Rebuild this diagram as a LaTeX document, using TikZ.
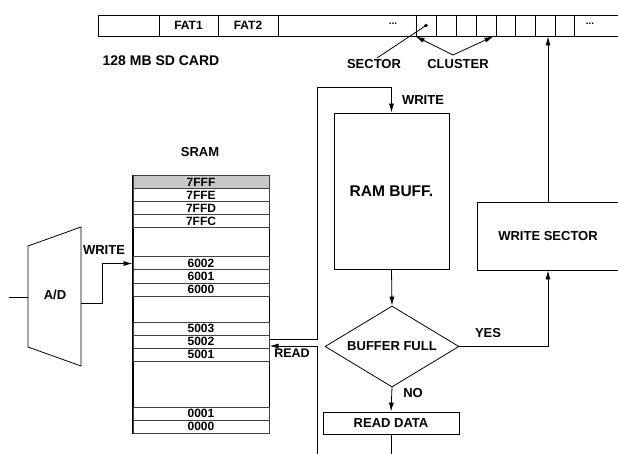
\documentclass[tikz,border=0pt]{standalone}
\usepackage{fontspec}
\setmainfont{Liberation Sans}
\usetikzlibrary{shapes.geometric,arrows.meta}
\newcommand\myfs[1]{\fontsize{#1}{#1}\selectfont\bfseries}
\begin{document}
\begin{tikzpicture}[x=1pt,y=-1pt,line width=0.8pt,
  arr/.style={-{Latex[length=9pt,width=5pt]}},
  cell/.style={draw,minimum height=21pt,inner sep=0pt,font=\myfs{12}},
  row/.style={draw=black!75,line width=1pt,minimum width=136pt,minimum height=13pt,inner sep=0pt,font=\myfs{12}},
  lbl/.style={inner sep=1pt,font=\myfs{13}},
  box/.style={draw,inner sep=0pt,font=\myfs{13}}]
\clip (0,0) rectangle (618,454);
\useasboundingbox (0,0) rectangle (618,454);
% SD card strip
\node[cell,minimum width=61pt] (c1) at (128.5,25.5) {};
\node[cell,minimum width=59pt] (c2) at (188.5,25.5) {FAT1};
\node[cell,minimum width=60pt] (c3) at (248,25.5) {FAT2};
\node[cell,minimum width=138pt] (c4) at (347,25.5) {};
\node[cell,minimum width=20pt] (c5) at (426,25.5) {};
\node[cell,minimum width=20pt] (c6) at (446,25.5) {};
\node[cell,minimum width=20pt] (c7) at (466,25.5) {};
\node[cell,minimum width=20pt] (c8) at (486,25.5) {};
\node[cell,minimum width=19pt] (c9) at (505.5,25.5) {};
\node[cell,minimum width=20pt] (c10) at (525,25.5) {};
\node[cell,minimum width=20pt] (c11) at (545,25.5) {};
\node[cell,minimum width=19pt] (c12) at (564.5,25.5) {};
\node[cell,minimum width=66pt] (c13) at (607,25.5) {};
\node[font=\myfs{10},inner sep=0pt] (dots1) at (393,24) {...};
\node[font=\myfs{10},inner sep=0pt] (dots2) at (590,24) {...};
\node[circle,fill,inner sep=1.3pt] (dot) at (c5.center) {};
\node[lbl,font=\myfs{14}] (sdcard) at (161,61) {128 MB SD CARD};
\node[lbl] (sector) at (374,64) {SECTOR};
\node[lbl] (cluster) at (458,64) {CLUSTER};
\draw (dot.center) -- ([xshift=3pt]sector.north);
\coordinate (capex) at (453,55);
\draw[arr] (capex) -- (c5.south west);
\draw[arr] (capex) -- ([xshift=-3pt]c8.south east);
% SRAM
\node[lbl] (sramlbl) at (200,152) {SRAM};
\node[draw,line width=1pt,minimum width=136pt,minimum height=257pt,inner sep=0pt] (sram) at (201,304.5) {};
\draw[line width=1.6pt] (sram.north west) -- (sram.south west);
\node[row,fill=black!22] (r7FFF) at (201,182.5) {7FFF};
\node[row] (r7FFE) at (201,195.5) {7FFE};
\node[row] (r7FFD) at (201,208.5) {7FFD};
\node[row] (r7FFC) at (201,221.5) {7FFC};
\node[row] (r6002) at (201,263.5) {6002};
\node[row] (r6001) at (201,276.5) {6001};
\node[row] (r6000) at (201,289.5) {6000};
\node[row] (r5003) at (201,328.5) {5003};
\node[row] (r5002) at (201,341.5) {5002};
\node[row] (r5001) at (201,354.5) {5001};
\node[row] (r0001) at (201,413.5) {0001};
\node[row] (r0000) at (201,426.5) {0000};
% A/D converter
\coordinate (adtl) at (28,246);
\coordinate (adtr) at (81,227);
\coordinate (adbr) at (81,366);
\coordinate (adbl) at (28,347);
\draw (adtl) -- (adtr) -- (adbr) -- (adbl) -- cycle;
\node[lbl] (ad) at (55,295) {A/D};
\coordinate (adin) at (9,297);
\draw (adin) -- (28,297);
\coordinate (adout) at (81,303);
\draw[arr] (adout) -- (102,303) |- (r6002.west);
\node[lbl] (write1) at (104,250) {WRITE};
% flow chart
\node[box,minimum width=115pt,minimum height=156pt,font=\myfs{15.5}] (buff) at (391.5,191) {RAM BUFF.};
\node[box,diamond,aspect=1.65,minimum width=134pt,minimum height=81pt] (full) at (392,346.5) {BUFFER FULL};
\node[box,minimum width=136pt,minimum height=22pt] (rd) at (391,423) {READ DATA};
\node[box,minimum width=142pt,minimum height=68pt] (ws) at (548,236) {WRITE SECTOR};
\coordinate (looptl) at (317,87);
\draw[arr] ([yshift=2.5pt]r5002.east) -| (looptl) -| (buff.north);
\node[lbl] (write2) at (423,100) {WRITE};
\coordinate (readbot) at (317,460);
\draw[arr] (readbot) |- ([yshift=-4.5pt]r5002.east);
\node[lbl,font=\myfs{12.5}] (read) at (292,353) {READ};
\draw[arr] (buff.south) -- (full.north);
\draw[arr] (full.south) -- (rd.north);
\node[lbl] (no) at (413,393) {NO};
\draw[arr] (full.east) -| (ws.south);
\node[lbl] (yes) at (488,333) {YES};
\draw[arr] (ws.north) -- (ws.north |- c11.south);
\coordinate (rdbot) at (391,460);
\draw (rd.south) -- (rdbot);
\end{tikzpicture}
\end{document}
